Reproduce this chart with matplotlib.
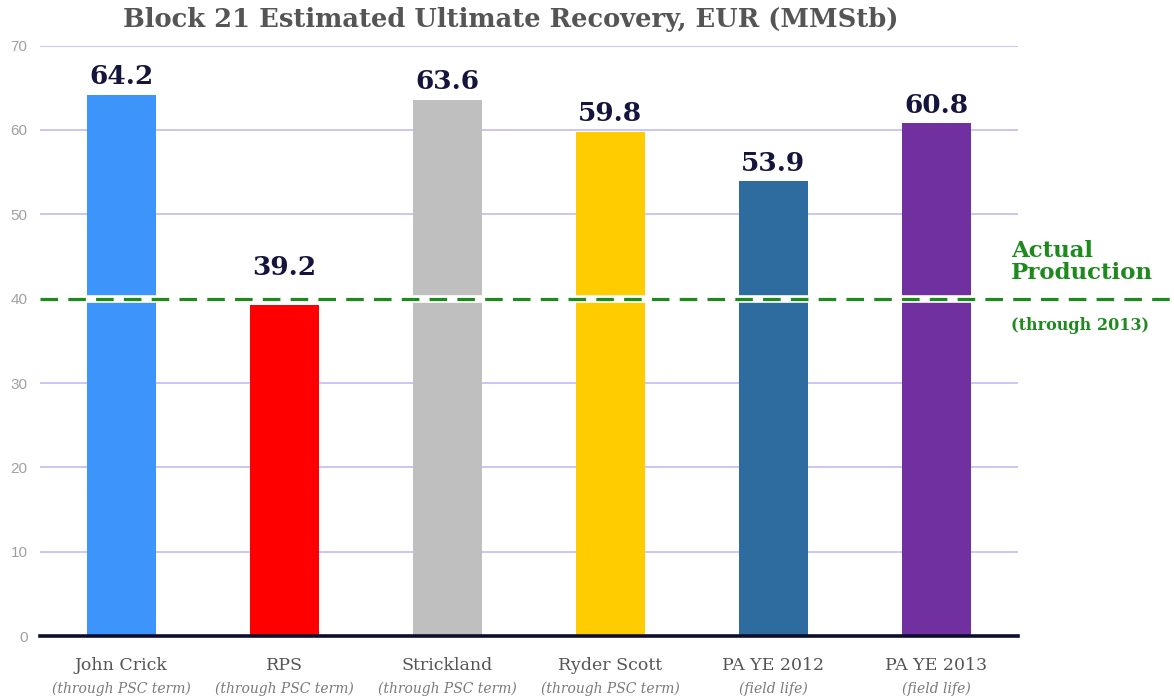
"""
Block 21 EUR bar chart: six estimates vs actual production (dashed line).
Output: out.png
"""
import matplotlib

matplotlib.use("Agg")
import matplotlib.pyplot as plt
import matplotlib.transforms as mtransforms


OUT_PATH = "out.png"

CATEGORIES = ["John Crick", "RPS", "Strickland", "Ryder Scott", "PA YE 2012", "PA YE 2013"]
SUBLABELS = [
    "(through PSC term)",
    "(through PSC term)",
    "(through PSC term)",
    "(through PSC term)",
    "(field life)",
    "(field life)",
]
EUR_MMSTB = [64.2, 39.2, 63.6, 59.8, 53.9, 60.8]
BAR_COLORS = ["#3d95fb", "#ff0000", "#bfbfbf", "#ffcc00", "#2e6b9e", "#7030a0"]
ACTUAL_PRODUCTION = 40.0
Y_TICKS = [0, 10, 20, 30, 40, 50, 60, 70]

SERIF = "DejaVu Serif"
GREEN = "#1e8a1e"
GRID = "#cbc4f6"


def main() -> None:
    fig = plt.figure(figsize=(11.74, 6.97), dpi=100)
    ax = fig.add_axes([0.034, 0.0875, 0.833, 0.847])

    x = list(range(len(CATEGORIES)))
    ax.bar(x, EUR_MMSTB, width=0.42, color=BAR_COLORS, zorder=2)

    ax.set_xlim(-0.5, len(CATEGORIES) - 0.5)
    ax.set_ylim(0, 70)
    ax.set_yticks(Y_TICKS)
    ax.set_yticklabels([str(t) for t in Y_TICKS], family="Liberation Sans",
                       fontsize=11, color="#a0a0a0")
    ax.tick_params(axis="y", length=0, pad=9)
    ax.set_xticks([])
    for s in ["top", "right", "left"]:
        ax.spines[s].set_visible(False)
    ax.spines["bottom"].set_color("#0d0d2e")
    ax.spines["bottom"].set_linewidth(2.6)
    ax.spines["bottom"].set_zorder(5)
    ax.yaxis.grid(True, color=GRID, linewidth=1.4, zorder=0)
    ax.set_axisbelow(True)

    # actual production line: white halo under a green dash, runs past the axes
    trans = mtransforms.blended_transform_factory(ax.transAxes, ax.transData)
    right_end = (1174 - 40) / 978
    ax.plot([0, right_end], [ACTUAL_PRODUCTION] * 2, color="white", lw=5.5,
            transform=trans, clip_on=False, zorder=3, solid_capstyle="butt")
    ax.plot([0, right_end], [ACTUAL_PRODUCTION] * 2, color=GREEN, lw=2.3,
            dashes=(5.5, 3.2), transform=trans, clip_on=False, zorder=4)

    fig.text(0.861, 0.624, "Actual\nProduction", family=SERIF, fontweight="bold",
             fontsize=16.5, color=GREEN, ha="left", va="center", linespacing=1.0)
    fig.text(0.861, 0.533, "(through 2013)", family=SERIF, fontweight="bold",
             fontsize=11.5, color=GREEN, ha="left", va="center")

    # value labels above the bars (kept above the dashed line)
    for xi, v in zip(x, EUR_MMSTB):
        y = max(v, ACTUAL_PRODUCTION + 1.6)
        ax.annotate(f"{v:.1f}", (xi, y), xytext=(0, 4), textcoords="offset points",
                    ha="center", va="bottom", family=SERIF, fontweight="bold",
                    fontsize=19, color="#14143c", zorder=6)

    # category labels
    for xi, name, sub in zip(x, CATEGORIES, SUBLABELS):
        ax.annotate(name, (xi, 0), xytext=(0, -15), textcoords="offset points",
                    ha="center", va="top", family=SERIF, fontsize=12.5,
                    color="#555555", annotation_clip=False)
        ax.annotate(sub, (xi, 0), xytext=(0, -33), textcoords="offset points",
                    ha="center", va="top", family=SERIF, style="italic",
                    fontsize=10, color="#7a7a7a", annotation_clip=False)

    fig.text(0.435, 0.972, "Block 21 Estimated Ultimate Recovery, EUR (MMStb)",
             family=SERIF, fontweight="bold", fontsize=18.5, color="#555555",
             ha="center", va="center")

    fig.savefig(OUT_PATH, dpi=100)
    plt.close(fig)


if __name__ == "__main__":
    main()
